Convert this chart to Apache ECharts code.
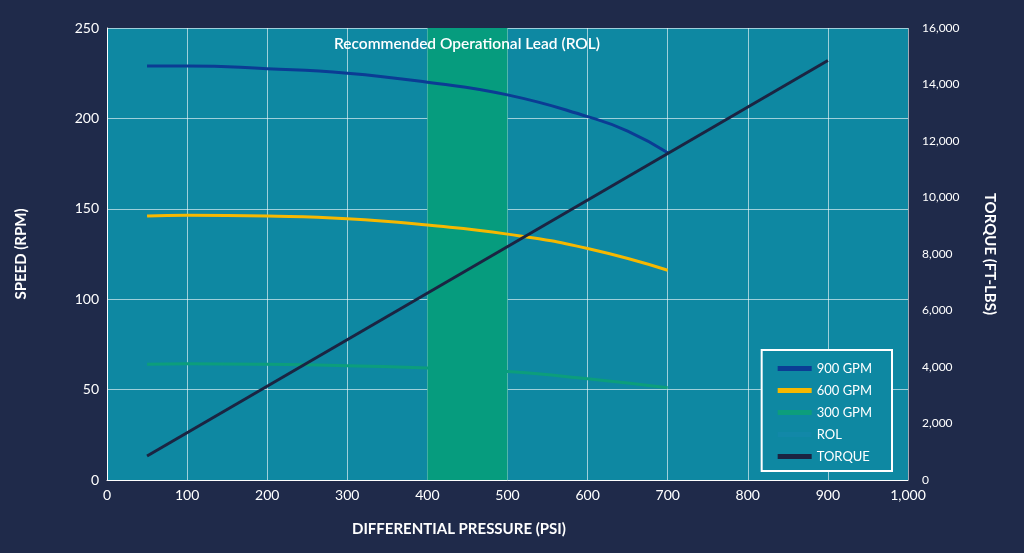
<!DOCTYPE html><html><head><meta charset="utf-8">
<script src="https://cdn.jsdelivr.net/npm/echarts@6/dist/echarts.min.js"></script>
<style>html,body{margin:0;background:#1f2a4a}#c{width:1024px;height:553px}</style></head><body><div id="c"></div>
<script>
const pressure=[50,100,200,300,400,500,600,650,700];
const gpm900=[229,229,227.5,225,220,213,201,193,181];
const pressure2=[50,100,200,300,400,500,600,700];
const gpm600=[146,146.5,146,144.5,141,136,128,116];
const gpm300=[64,64.3,64,63.2,62,60,56,51];
const torqueX=[50,900];
const torque=[850,14850];
const rol=[400,500];
const z=(xs,ys)=>xs.map((x,i)=>[x,ys[i]]);
const white='#ffffff', font='Lato';
const chart=echarts.init(document.getElementById('c'));
chart.setOption({
backgroundColor:'#1f2a4a',
textStyle:{fontFamily:font},
grid:{left:107,right:116,top:28,bottom:73,show:true,backgroundColor:'#0e88a2',borderWidth:0},
xAxis:{type:'value',min:0,max:1000,interval:100,
 axisLabel:{color:white,fontSize:14,formatter:v=>v.toLocaleString('en-US')},axisLine:{lineStyle:{color:white}},axisTick:{show:false},
 splitLine:{lineStyle:{color:'rgba(255,255,255,0.6)'}}},
yAxis:[{type:'value',min:0,max:250,interval:50,name:'SPEED (RPM)',nameLocation:'middle',nameGap:78,
 nameTextStyle:{color:white,fontWeight:'bold',fontSize:15},
 axisLabel:{color:white,fontSize:14},axisLine:{show:true,lineStyle:{color:white}},axisTick:{show:false},
 splitLine:{lineStyle:{color:'rgba(255,255,255,0.6)'}}},
 {type:'value',min:0,max:16000,interval:2000,name:'TORQUE (FT-LBS)',nameLocation:'middle',nameGap:74,nameRotate:-90,
 nameTextStyle:{color:white,fontWeight:'bold',fontSize:15},
 axisLabel:{color:white,fontSize:12,margin:14,formatter:v=>v.toLocaleString('en-US')},axisLine:{show:false},axisTick:{show:false},splitLine:{show:false}}],
legend:{right:132,bottom:82,orient:'vertical',backgroundColor:'#0e88a2',borderColor:white,borderWidth:2,padding:[12,20,8,16],itemGap:9,
 itemWidth:34,itemHeight:5,icon:'rect',textStyle:{color:white,fontSize:13},
 data:['900 GPM','600 GPM','300 GPM','ROL','TORQUE']},
series:[
 {name:'ROL',type:'line',data:[],color:'#1288a8',
  markArea:{silent:true,itemStyle:{color:'#069c7e',opacity:1},
   label:{show:false},data:[[{xAxis:rol[0],yAxis:0},{xAxis:rol[1],yAxis:252}]]},z:1},
 {name:'300 GPM',type:'line',smooth:true,showSymbol:false,data:z(pressure2,gpm300),color:'#0c9e7c',lineStyle:{width:3},z:0},
 {name:'900 GPM',type:'line',smooth:true,showSymbol:false,data:z(pressure,gpm900),color:'#0b3c94',lineStyle:{width:3},z:3},
 {name:'600 GPM',type:'line',smooth:true,showSymbol:false,data:z(pressure2,gpm600),color:'#f6b800',lineStyle:{width:3},z:3},
 {name:'TORQUE',type:'line',yAxisIndex:1,showSymbol:false,data:z(torqueX,torque),color:'#1b2442',lineStyle:{width:3},z:4}
],
graphic:[{type:'text',left:334,top:36,style:{text:'Recommended Operational Lead (ROL)',fill:white,font:'600 15.5px Lato'},z:10},
 {type:'text',left:352,top:522,style:{text:'DIFFERENTIAL PRESSURE (PSI)',fill:white,font:'bold 15px Lato'},z:10}]
});
</script></body></html>
